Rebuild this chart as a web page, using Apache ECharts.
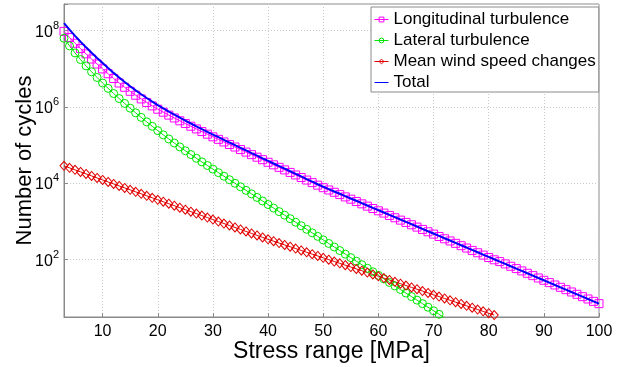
<!DOCTYPE html>
<html>
<head>
<meta charset="utf-8">
<script src="https://cdn.jsdelivr.net/npm/echarts@6/dist/echarts.min.js"></script>
<style>
  html, body { margin: 0; padding: 0; background: #fff; }
  #chart { width: 625px; height: 367px; }
</style>
</head>
<body>
<div id="chart"></div>
<script>
// stress range [MPa], one marker per MPa
var stress = [3, 4, 5, 6, 7, 8, 9, 10, 11, 12, 13, 14, 15, 16, 17, 18, 19, 20,
  21, 22, 23, 24, 25, 26, 27, 28, 29, 30, 31, 32, 33, 34, 35, 36, 37, 38, 39, 40,
  41, 42, 43, 44, 45, 46, 47, 48, 49, 50, 51, 52, 53, 54, 55, 56, 57, 58, 59, 60,
  61, 62, 63, 64, 65, 66, 67, 68, 69, 70, 71, 72, 73, 74, 75, 76, 77, 78, 79, 80,
  81, 82, 83, 84, 85, 86, 87, 88, 89, 90, 91, 92, 93, 94, 95, 96, 97, 98, 99, 100];

// log10(number of cycles)
var longitudinal = [7.98, 7.82, 7.67, 7.529, 7.391, 7.255, 7.124, 6.996, 6.868, 6.744,
  6.625, 6.513, 6.407, 6.304, 6.207, 6.114, 6.024, 5.937, 5.859, 5.782, 5.707, 5.633,
  5.561, 5.49, 5.42, 5.35, 5.281, 5.212, 5.145, 5.077, 5.01, 4.944, 4.877, 4.811,
  4.744, 4.677, 4.611, 4.543, 4.476, 4.41, 4.343, 4.277, 4.21, 4.143, 4.076, 4.009,
  3.942, 3.876, 3.816, 3.755, 3.695, 3.634, 3.574, 3.513, 3.452, 3.391, 3.329, 3.269,
  3.209, 3.147, 3.086, 3.024, 2.964, 2.903, 2.841, 2.78, 2.718, 2.657, 2.595, 2.534,
  2.477, 2.414, 2.353, 2.291, 2.229, 2.167, 2.105, 2.043, 1.982, 1.935, 1.874, 1.812,
  1.751, 1.69, 1.628, 1.567, 1.505, 1.444, 1.383, 1.321, 1.26, 1.198, 1.137, 1.076,
  1.014, 0.953, 0.891, 0.83];

var lateral = [7.8, 7.6, 7.415, 7.24, 7.075, 6.92, 6.77, 6.625, 6.485, 6.349, 6.217,
  6.089, 5.964, 5.842, 5.722, 5.604, 5.488, 5.374, 5.263, 5.155, 5.049, 4.946, 4.845,
  4.746, 4.649, 4.553, 4.458, 4.364, 4.271, 4.178, 4.085, 3.992, 3.899, 3.806, 3.713,
  3.62, 3.527, 3.434, 3.341, 3.248, 3.155, 3.062, 2.969, 2.876, 2.783, 2.69, 2.597,
  2.504, 2.411, 2.318, 2.225, 2.132, 2.039, 1.946, 1.853, 1.76, 1.667, 1.574, 1.481,
  1.388, 1.295, 1.202, 1.109, 1.016, 0.923, 0.83, 0.737, 0.644, 0.551, 0.458];

var meanWind = [4.45, 4.397, 4.344, 4.291, 4.238, 4.185, 4.132, 4.079, 4.027, 3.975,
  3.923, 3.871, 3.819, 3.767, 3.715, 3.663, 3.611, 3.559, 3.507, 3.455, 3.403, 3.351,
  3.299, 3.247, 3.195, 3.143, 3.091, 3.039, 2.987, 2.935, 2.883, 2.831, 2.779, 2.727,
  2.675, 2.623, 2.571, 2.519, 2.471, 2.422, 2.374, 2.325, 2.277, 2.228, 2.18, 2.131,
  2.083, 2.034, 1.986, 1.937, 1.889, 1.84, 1.792, 1.743, 1.695, 1.646, 1.598, 1.549,
  1.501, 1.452, 1.404, 1.355, 1.307, 1.258, 1.21, 1.161, 1.113, 1.064, 1.016, 0.967,
  0.919, 0.87, 0.822, 0.773, 0.725, 0.676, 0.628, 0.579, 0.531];

var total = [8.2, 8.025, 7.862, 7.709, 7.562, 7.42, 7.283, 7.15, 7.018, 6.891, 6.769,
  6.652, 6.54, 6.433, 6.33, 6.231, 6.135, 6.042, 5.957, 5.874, 5.793, 5.714, 5.637,
  5.562, 5.488, 5.415, 5.343, 5.272, 5.202, 5.132, 5.062, 4.993, 4.924, 4.855, 4.786,
  4.717, 4.648, 4.579, 4.511, 4.443, 4.375, 4.307, 4.239, 4.171, 4.103, 4.035, 3.967,
  3.9, 3.839, 3.777, 3.716, 3.654, 3.593, 3.532, 3.47, 3.409, 3.347, 3.286, 3.225,
  3.163, 3.102, 3.04, 2.979, 2.918, 2.856, 2.795, 2.733, 2.672, 2.611, 2.549, 2.488,
  2.426, 2.365, 2.304, 2.242, 2.181, 2.119, 2.058, 1.997, 1.935, 1.874, 1.812, 1.751,
  1.69, 1.628, 1.567, 1.505, 1.444, 1.383, 1.321, 1.26, 1.198, 1.137, 1.076, 1.014,
  0.953, 0.891, 0.83];

var seriesNames = ["Longitudinal turbulence", "Lateral turbulence", "Mean wind speed changes", "Total"];

var font = "'Liberation Sans', Arial, sans-serif";

function pairs(vals) {
  return vals.map(function (v, i) { return [stress[i], v]; });
}

function hollow(name, symbol, color, vals) {
  return {
    name: name,
    type: "line",
    data: pairs(vals),
    symbol: symbol,
    symbolSize: symbol === "diamond" ? [8, 9] : 8,
    lineStyle: { color: color, width: 1 },
    itemStyle: { color: "rgba(0,0,0,0)", borderColor: color, borderWidth: 1 },
    emphasis: { disabled: true }
  };
}

var chart = echarts.init(document.getElementById("chart"));
chart.setOption({
  animation: false,
  backgroundColor: "#fff",
  textStyle: { fontFamily: font },
  grid: {
    left: 64, right: 26, top: 4, bottom: 50,
    outerBoundsMode: "none",
    containLabel: false,
    show: true, borderColor: "#8a8a8a", borderWidth: 1, backgroundColor: "#fff"
  },
  legend: {
    orient: "vertical",
    left: 371, top: 7,
    padding: [4, 3, 1, 3],
    itemGap: 4,
    itemWidth: 14,
    itemHeight: 6,
    itemTextGap: 2,
    backgroundColor: "#fff",
    borderColor: "#8a8a8a",
    borderWidth: 1,
    lineStyle: { width: 1 },
    itemStyle: { borderWidth: 1 },
    textStyle: { fontSize: 17, color: "#000", fontFamily: font },
    data: [
      seriesNames[0], seriesNames[1], seriesNames[2],
      { name: seriesNames[3], itemStyle: { color: "rgba(0,0,0,0)", borderWidth: 0 } }
    ]
  },
  xAxis: {
    type: "value",
    min: 3, max: 100,
    splitNumber: 10,
    name: "Stress range [MPa]",
    nameLocation: "middle",
    nameGap: 23,
    nameMoveOverlap: false,
    nameTextStyle: { fontSize: 23, color: "#000", fontFamily: font },
    axisLine: { lineStyle: { color: "#8a8a8a" } },
    axisTick: { inside: true, length: 4, lineStyle: { color: "#8a8a8a" } },
    axisLabel: {
      fontSize: 16, color: "#000", margin: 7,
      formatter: function (v) { return v % 10 === 0 ? String(v) : ""; }
    },
    splitLine: { lineStyle: { color: "#c8c8c8", type: [1, 2] } }
  },
  yAxis: {
    type: "value",
    min: 0.48, max: 8.7,
    splitNumber: 4,
    name: "Number of cycles",
    nameLocation: "middle",
    nameGap: 28,
    nameMoveOverlap: false,
    nameTextStyle: { fontSize: 22, color: "#000", fontFamily: font },
    axisLine: { lineStyle: { color: "#8a8a8a" } },
    axisTick: { inside: true, length: 4, lineStyle: { color: "#8a8a8a" } },
    axisLabel: {
      color: "#000", margin: 5,
      formatter: function (v) {
        var r = Math.round(v);
        if (Math.abs(v - r) > 1e-6) return "";
        return "{b|10}{s|" + r + "}";
      },
      rich: {
        b: { fontSize: 16, color: "#000", fontFamily: font, lineHeight: 20, verticalAlign: "bottom" },
        s: { fontSize: 11, color: "#000", fontFamily: font, lineHeight: 20, verticalAlign: "top", padding: [0, 0, 10, 0] }
      }
    },
    splitLine: { lineStyle: { color: "#c8c8c8", type: [1, 2] } }
  },
  series: [
    hollow(seriesNames[0], "rect", "#ff00ff", longitudinal),
    hollow(seriesNames[1], "circle", "#00e600", lateral),
    hollow(seriesNames[2], "diamond", "#e00000", meanWind),
    {
      name: seriesNames[3],
      type: "line",
      z: 5,
      data: pairs(total),
      showSymbol: false,
      symbol: "none",
      lineStyle: { color: "#0000ff", width: 2 },
      itemStyle: { color: "#0000ff" },
      emphasis: { disabled: true }
    }
  ]
});
</script>
</body>
</html>
